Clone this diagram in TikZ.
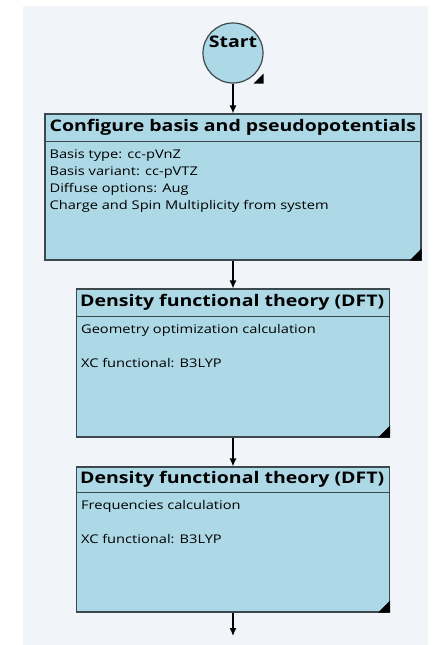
\documentclass[tikz,border=0pt]{standalone}
\usepackage{fontspec}
\setmainfont{Open Sans}
\newfontfamily\widefont[FakeStretch=1.22]{Open Sans}
\usetikzlibrary{arrows.meta,calc,positioning}
\definecolor{panelgray}{RGB}{241,244,248}
\definecolor{boxblue}{RGB}{173,216,230}
\definecolor{boxedge}{RGB}{60,72,78}

\tikzset{
  stepbox/.style={draw=boxedge, line width=1.2pt, fill=boxblue, inner sep=0pt},
  startdot/.style={circle, draw=boxedge, line width=1.2pt, fill=boxblue, minimum size=60pt, inner sep=0pt},
  sepline/.style={draw=boxedge, line width=1.2pt},
  titletext/.style={anchor=west, inner sep=0pt, font=\widefont\fontsize{16}{19}\selectfont\bfseries},
  bodytext/.style={anchor=north west, align=left, inner sep=0pt, font=\widefont\fontsize{12}{17}\selectfont},
  flow/.style={-{Latex[length=8pt,width=7pt]}, line width=1.3pt},
}

\begin{document}
\begin{tikzpicture}[x=1pt, y=-1pt]
\useasboundingbox (0,0) rectangle (436,645);
\fill[panelgray] (23,6) rectangle (428,645);

%--- Start ---
\node[startdot] (start) at (233,53) {};
\node[titletext, anchor=center] (startlbl) at (233,42) {Start};
\fill (start.south -| start.east) -- ++(-10,0) -- ++(10,-10) -- cycle;

%--- Configure basis and pseudopotentials ---
\node[stepbox, minimum width=376pt, minimum height=146pt] (cfg) at (233,187) {};
\draw[sepline] ($(cfg.north west)+(0,28)$) -- ($(cfg.north east)+(0,28)$);
\node[titletext] (cfgtitle) at ($(cfg.north west)+(5,14)$) {Configure basis and pseudopotentials};
\node[bodytext] (cfgbody) at ($(cfg.north west)+(5,36)$) {Basis type: cc-pVnZ\\Basis variant: cc-pVTZ\\Diffuse options: Aug\\Charge and Spin Multiplicity from system};
\fill (cfg.south east) -- ++(-12,0) -- ++(12,-12) -- cycle;

%--- DFT: geometry optimization ---
\node[stepbox, minimum width=313pt, minimum height=148pt] (geo) at (233,363) {};
\draw[sepline] ($(geo.north west)+(0,28)$) -- ($(geo.north east)+(0,28)$);
\node[titletext] (geotitle) at ($(geo.north west)+(4,14)$) {Density functional theory (DFT)};
\node[bodytext] (geobody) at ($(geo.north west)+(5,36)$) {Geometry optimization calculation\\[17pt]XC functional: B3LYP};
\fill (geo.south east) -- ++(-12,0) -- ++(12,-12) -- cycle;

%--- DFT: frequencies ---
\node[stepbox, minimum width=313pt, minimum height=145pt] (freq) at (233,539.5) {};
\draw[sepline] ($(freq.north west)+(0,26)$) -- ($(freq.north east)+(0,26)$);
\node[titletext] (freqtitle) at ($(freq.north west)+(4,13)$) {Density functional theory (DFT)};
\node[bodytext] (freqbody) at ($(freq.north west)+(5,34)$) {Frequencies calculation\\[17pt]XC functional: B3LYP};
\fill (freq.south east) -- ++(-12,0) -- ++(12,-12) -- cycle;

% connectors
\foreach \a/\b in {start/cfg, cfg/geo, geo/freq}{
  \draw[flow] (\a.south) -- (\b.north);
}
\coordinate (endpt) at (233,636);
\draw[flow] (freq.south) -- (endpt);
\end{tikzpicture}
\end{document}
